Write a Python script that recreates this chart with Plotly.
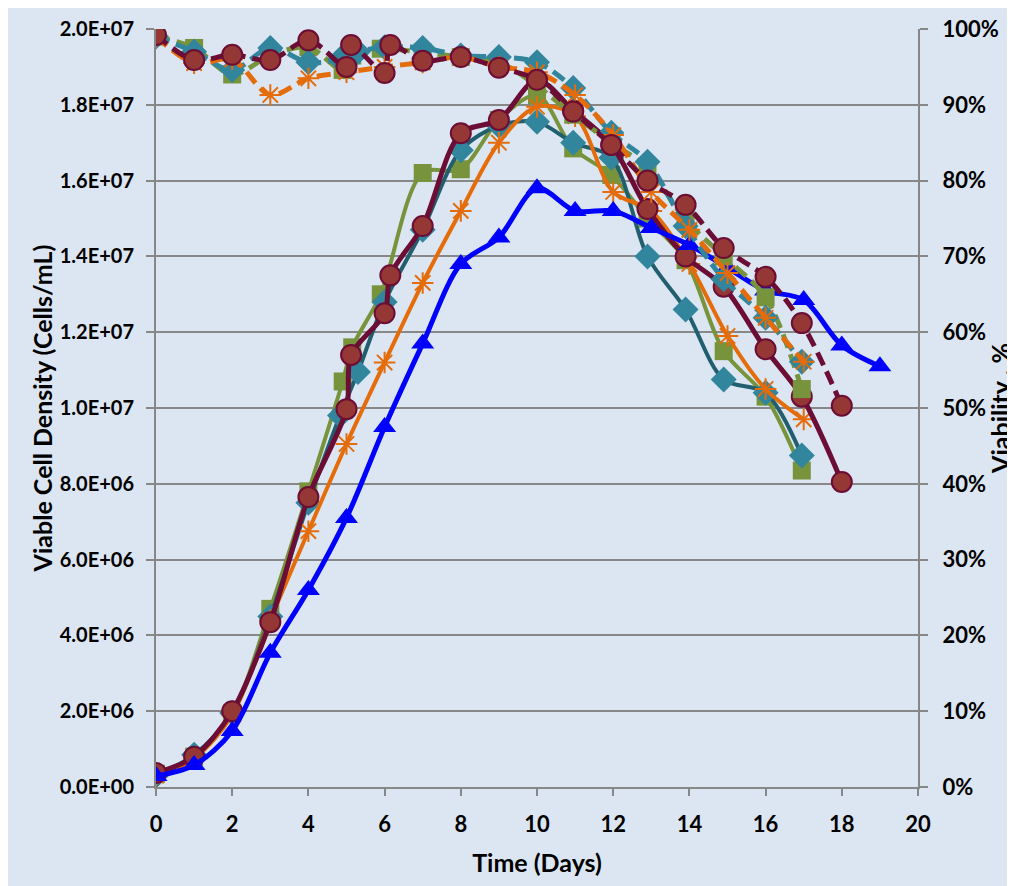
import plotly.graph_objects as go

# ---------------- data ----------------
# Maroon circles
days_m = [0, 1, 2, 3, 4, 5, 5.12, 6, 6.15, 7, 8, 9, 10, 10.95, 11.95, 12.9, 13.9, 14.9, 16, 16.95, 18]
vcd_m = [0.37, 0.8, 2.0, 4.35, 7.65, 9.97, 11.4, 12.5, 13.5, 14.8, 17.25, 17.6, 18.65, 17.85, 16.95, 15.25, 14.0, 13.2, 11.55, 10.3, 8.05]
via_m = [99.2, 95.9, 96.6, 95.9, 98.5, 95.0, 97.9, 94.2, 97.9, 95.8, 96.3, 94.9, 93.3, 89.1, 84.7, 80.0, 76.8, 71.1, 67.3, 61.2, 50.3]

# Green squares
days_g = [0, 1, 2, 3, 4, 4.9, 5.15, 5.9, 7, 8, 9, 10, 10.95, 11.95, 12.9, 13.9, 14.9, 16, 16.95]
vcd_g = [0.35, 0.8, 1.95, 4.7, 7.8, 10.7, 11.6, 13.0, 16.2, 16.3, 17.6, 18.25, 16.85, 16.15, 15.0, 13.9, 11.5, 10.3, 8.35]
via_g = [99.0, 97.5, 94.0, 96.5, 97.6, 94.6, 96.5, 97.4, 96.9, 96.3, 95.6, 92.5, 88.7, 85.0, 81.7, 74.8, 70.0, 64.6, 52.5]

# Teal diamonds
days_t = [0, 1, 2, 3, 4, 4.83, 5.3, 6, 7, 8, 9, 10, 10.95, 11.95, 12.9, 13.9, 14.9, 16, 16.95]
vcd_t = [0.3, 0.85, 1.95, 4.5, 7.5, 9.8, 10.95, 12.8, 14.7, 16.8, 17.45, 17.55, 17.0, 16.6, 14.0, 12.6, 10.75, 10.4, 8.75]
via_t = [99.0, 97.0, 94.6, 97.5, 95.6, 96.0, 97.0, 97.6, 97.5, 96.5, 96.3, 95.6, 92.2, 86.3, 82.5, 74.0, 67.0, 61.9, 56.1]

# Orange stars
days_o = [0, 1, 2, 3, 4, 5, 6, 7, 8, 9, 10, 11, 12, 13, 14, 15, 16, 17]
vcd_o = [0.3, 0.75, 1.9, 4.4, 6.75, 9.05, 11.2, 13.3, 15.2, 17.0, 17.95, 17.7, 15.7, 15.2, 13.8, 11.9, 10.5, 9.7]
via_o = [99.0, 95.5, 96.0, 91.3, 93.5, 94.3, 95.0, 95.6, 96.3, 95.0, 94.3, 91.3, 86.0, 78.5, 73.5, 67.8, 61.9, 56.1]

# Blue triangles
days_b = [0, 1, 2, 3, 4, 5, 6, 7, 8, 9, 10, 11, 12, 13, 14, 15, 16, 17, 18, 19]
vcd_b = [0.29, 0.58, 1.48, 3.54, 5.2, 7.1, 9.5, 11.7, 13.8, 14.5, 15.8, 15.2, 15.2, 14.75, 14.3, 13.7, 13.1, 12.85, 11.65, 11.1]

# axis ticks
x_ticks = [0, 2, 4, 6, 8, 10, 12, 14, 16, 18, 20]
y_ticks = [0, 2e6, 4e6, 6e6, 8e6, 1e7, 1.2e7, 1.4e7, 1.6e7, 1.8e7, 2e7]
y_tick_text = ["0.0E+00", "2.0E+06", "4.0E+06", "6.0E+06", "8.0E+06", "1.0E+07",
               "1.2E+07", "1.4E+07", "1.6E+07", "1.8E+07", "2.0E+07"]
y2_ticks = [0, 10, 20, 30, 40, 50, 60, 70, 80, 90, 100]
y2_tick_text = ["0%", "10%", "20%", "30%", "40%", "50%", "60%", "70%", "80%", "90%", "100%"]

# ---------------- figure ----------------
MAROON = "#6b0d35"
MAROON_FILL = "#953735"
GREEN = "#77933c"
TEAL = "#31859c"
TEAL_DARK = "#215f6e"
ORANGE = "#e46c0a"
BLUE = "#0000ff"
SMOOTH = 0.9
DASH = "14px,7px"

fig = go.Figure()

def scale(v):
    return [a * 1e6 for a in v]

# VCD (solid) traces on left axis
fig.add_trace(go.Scatter(x=days_g, y=scale(vcd_g), mode="lines+markers",
                         line=dict(color=GREEN, width=4, shape="spline", smoothing=SMOOTH),
                         marker=dict(symbol="square", size=18, color=GREEN),
                         name="G VCD"))
fig.add_trace(go.Scatter(x=days_t, y=scale(vcd_t), mode="lines+markers",
                         line=dict(color=TEAL_DARK, width=4, shape="spline", smoothing=SMOOTH),
                         marker=dict(symbol="diamond", size=20, color=TEAL),
                         name="T VCD"))
fig.add_trace(go.Scatter(x=days_o, y=scale(vcd_o), mode="lines+markers",
                         line=dict(color=ORANGE, width=4, shape="spline", smoothing=SMOOTH),
                         marker=dict(symbol="asterisk-open", size=18, color=ORANGE,
                                     line=dict(color=ORANGE, width=2)),
                         name="O VCD"))
fig.add_trace(go.Scatter(x=days_m, y=scale(vcd_m), mode="lines+markers",
                         line=dict(color=MAROON, width=5, shape="spline", smoothing=SMOOTH),
                         marker=dict(symbol="circle", size=20, color=MAROON_FILL,
                                     line=dict(color=MAROON, width=2)),
                         name="M VCD"))
fig.add_trace(go.Scatter(x=days_b, y=scale(vcd_b), mode="lines+markers",
                         line=dict(color=BLUE, width=5, shape="spline", smoothing=SMOOTH),
                         marker=dict(symbol="triangle-up", size=20, color=BLUE),
                         name="B VCD"))

# Viability (dashed) traces on right axis
fig.add_trace(go.Scatter(x=days_g, y=via_g, yaxis="y2", mode="lines+markers",
                         line=dict(color=GREEN, width=5, dash=DASH, shape="spline", smoothing=SMOOTH),
                         marker=dict(symbol="square", size=18, color=GREEN),
                         name="G Via"))
fig.add_trace(go.Scatter(x=days_t, y=via_t, yaxis="y2", mode="lines+markers",
                         line=dict(color=TEAL, width=5, dash=DASH, shape="spline", smoothing=SMOOTH),
                         marker=dict(symbol="diamond", size=20, color=TEAL),
                         name="T Via"))
fig.add_trace(go.Scatter(x=days_o, y=via_o, yaxis="y2", mode="lines+markers",
                         line=dict(color=ORANGE, width=5, dash=DASH, shape="spline", smoothing=SMOOTH),
                         marker=dict(symbol="asterisk-open", size=18, color=ORANGE,
                                     line=dict(color=ORANGE, width=2)),
                         name="O Via"))
fig.add_trace(go.Scatter(x=days_m, y=via_m, yaxis="y2", mode="lines+markers",
                         line=dict(color=MAROON, width=5, dash=DASH, shape="spline", smoothing=SMOOTH),
                         marker=dict(symbol="circle", size=20, color=MAROON_FILL,
                                     line=dict(color=MAROON, width=2)),
                         name="M Via"))

FONT = "Lato"
tick_font = dict(family=FONT, size=22, color="#000000", weight="bold")
left_tick_font = dict(family=FONT, size=20, color="#000000", weight="bold")
title_font = dict(family=FONT, size=25, color="#000000", weight="bold")
GRID = "#878787"

fig.update_layout(
    width=1007, height=878,
    margin=dict(l=148, r=97, t=21, b=99, autoexpand=False),
    paper_bgcolor="#dce6f2",
    plot_bgcolor="#dce6f2",
    showlegend=False,
    xaxis=dict(range=[0, 20], tickvals=x_ticks, ticktext=[str(v) for v in x_ticks],
               showgrid=False, zeroline=False, showline=True, linecolor=GRID, linewidth=2,
               ticks="outside", ticklen=7, tickwidth=2, tickcolor=GRID,
               tickfont=tick_font, automargin=False, ticklabelstandoff=10,
               title=dict(text="Time (Days)", font=title_font, standoff=18)),
    yaxis=dict(range=[0, 2e7], tickvals=y_ticks, ticktext=y_tick_text,
               showgrid=True, gridcolor=GRID, gridwidth=2, zeroline=False,
               showline=True, linecolor=GRID, linewidth=2,
               ticks="outside", ticklen=8, tickwidth=2, tickcolor=GRID,
               tickfont=left_tick_font, automargin=False, ticklabelstandoff=8,
               title=dict(text="Viable Cell Density (Cells/mL)", font=title_font, standoff=0)),
    yaxis2=dict(range=[0, 100], tickvals=y2_ticks, ticktext=y2_tick_text,
                overlaying="y", side="right", showgrid=False, zeroline=False,
                showline=True, linecolor=GRID, linewidth=2,
                ticks="outside", ticklen=8, tickwidth=2, tickcolor=GRID,
                tickfont=tick_font, automargin=False, ticklabelstandoff=10,
                title=dict(text="Viability , %", font=title_font, standoff=10)),
)

fig.write_html("out.html")
